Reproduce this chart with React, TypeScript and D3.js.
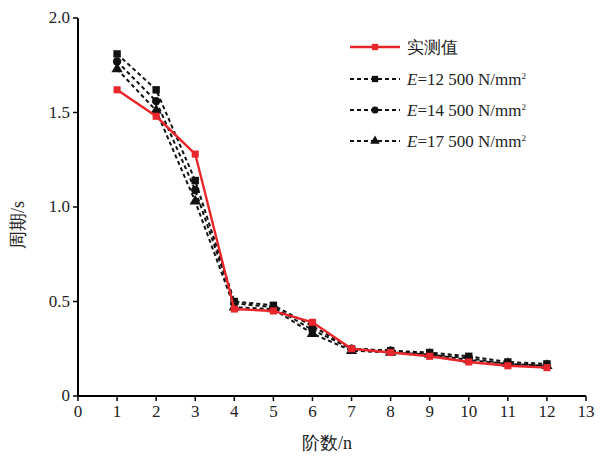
import React from "react";
import * as d3 from "d3";

const width = 608;
const height = 459;
const margin = { top: 18, right: 22, bottom: 63, left: 78 };

const orders = [1, 2, 3, 4, 5, 6, 7, 8, 9, 10, 11, 12];
const measured = [1.62, 1.48, 1.28, 0.46, 0.45, 0.39, 0.25, 0.23, 0.21, 0.18, 0.16, 0.15];
const e12500 = [1.81, 1.62, 1.14, 0.5, 0.48, 0.37, 0.25, 0.24, 0.23, 0.21, 0.18, 0.17];
const e14500 = [1.77, 1.56, 1.09, 0.49, 0.47, 0.35, 0.25, 0.24, 0.22, 0.2, 0.17, 0.16];
const e17500 = [1.73, 1.51, 1.03, 0.47, 0.46, 0.33, 0.24, 0.23, 0.22, 0.19, 0.17, 0.16];
const xTicks = [0, 1, 2, 3, 4, 5, 6, 7, 8, 9, 10, 11, 12, 13];
const yTicks = [0, 0.5, 1.0, 1.5, 2.0];

const series = [
  { name: "实测值", values: measured, color: "#e8262b", dash: "", symbol: d3.symbolSquare, size: 50 },
  { name: "12 500", values: e12500, color: "#111", dash: "4,3", symbol: d3.symbolSquare, size: 55 },
  { name: "14 500", values: e14500, color: "#111", dash: "4,3", symbol: d3.symbolCircle, size: 55 },
  { name: "17 500", values: e17500, color: "#111", dash: "4,3", symbol: d3.symbolTriangle, size: 55 },
];

const font = "'Liberation Serif', 'Times New Roman', serif";

export default function App() {
  const x = d3.scaleLinear().domain([0, 13]).range([margin.left, width - margin.right]);
  const y = d3.scaleLinear().domain([0, 2]).range([height - margin.bottom, margin.top]);
  const line = d3
    .line<number>()
    .x((_, i) => x(orders[i]))
    .y((d) => y(d));

  const legendX = 350;
  const legendY = [47, 79, 110, 141];

  return (
    <svg width={width} height={height} style={{ position: "absolute", left: 0, top: 0, background: "#fff" }}>
      {/* dashed model curves first so the measured red line sits on top */}
      {series
        .slice()
        .reverse()
        .map((s) => (
          <g key={s.name}>
            <path d={line(s.values) || ""} fill="none" stroke={s.color} strokeWidth={s.dash ? 2 : 2.4} strokeDasharray={s.dash} />
            {s.values.map((v, i) => (
              <path
                key={i}
                transform={`translate(${x(orders[i])},${y(v)})`}
                d={d3.symbol().type(s.symbol).size(s.size)() || ""}
                fill={s.color}
              />
            ))}
          </g>
        ))}

      {/* axes */}
      <line x1={x(0)} x2={x(13)} y1={y(0)} y2={y(0)} stroke="#000" strokeWidth={2} />
      <line x1={x(0)} x2={x(0)} y1={y(0)} y2={y(2)} stroke="#000" strokeWidth={2} />
      {xTicks.map((t) => (
        <g key={t}>
          <line x1={x(t)} x2={x(t)} y1={y(0)} y2={y(0) + 5} stroke="#000" strokeWidth={1.5} />
          <text x={x(t)} y={y(0) + 21} textAnchor="middle" fontFamily={font} fontSize={17} fill="#222">
            {t}
          </text>
        </g>
      ))}
      {yTicks.map((t) => (
        <g key={t}>
          <line x1={x(0) - 5} x2={x(0)} y1={y(t)} y2={y(t)} stroke="#000" strokeWidth={1.5} />
          <text x={x(0) - 8} y={y(t) + 5} textAnchor="end" fontFamily={font} fontSize={17} fill="#222">
            {t === 0 ? "0" : t.toFixed(1)}
          </text>
        </g>
      ))}
      <text x={327} y={449} textAnchor="middle" fontFamily={font} fontSize={18} fill="#222">
        阶数/n
      </text>
      <text
        transform={`translate(24,${y(1) + 18}) rotate(-90)`}
        textAnchor="middle"
        fontFamily={font}
        fontSize={18}
        fill="#222"
      >
        周期/s
      </text>

      {/* legend */}
      {series.map((s, i) => (
        <g key={s.name} transform={`translate(${legendX},${legendY[i]})`}>
          <line x1={0} x2={50} y1={0} y2={0} stroke={s.color} strokeWidth={s.dash ? 2 : 2.4} strokeDasharray={s.dash} />
          <path transform="translate(25,0)" d={d3.symbol().type(s.symbol).size(40)() || ""} fill={s.color} />
          <text x={57} y={6} fontFamily={font} fontSize={17} fill="#222">
            {i === 0 ? (
              s.name
            ) : (
              <>
                <tspan fontStyle="italic">E</tspan>={s.name} N/mm<tspan fontSize={9} dy={-6}>2</tspan>
              </>
            )}
          </text>
        </g>
      ))}
    </svg>
  );
}
